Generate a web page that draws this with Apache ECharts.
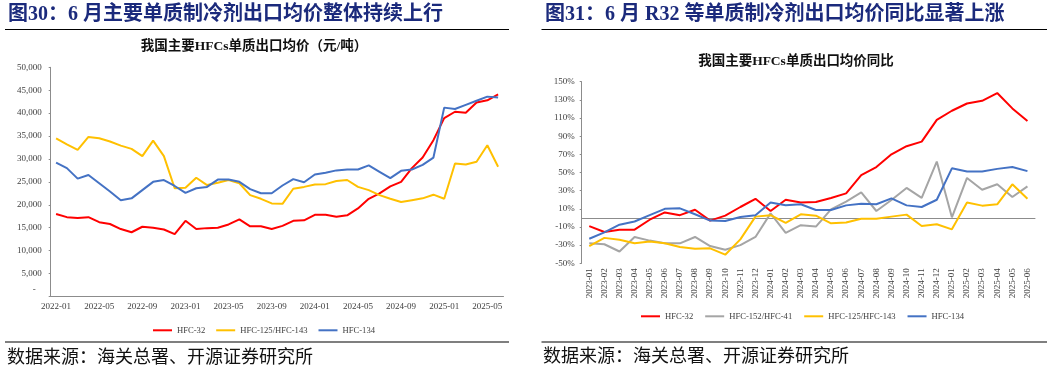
<!DOCTYPE html>
<html><head><meta charset="utf-8">
<script src="https://cdn.jsdelivr.net/npm/echarts@6/dist/echarts.min.js"></script>
<style>html,body{margin:0;padding:0;background:#fff}#c{width:1057px;height:368px}</style>
</head><body><div id="c"></div>
<script>
// ---------- Left chart: export average price (yuan/ton) ----------
const priceMonths = ['2022-01','2022-02','2022-03','2022-04','2022-05','2022-06','2022-07','2022-08','2022-09','2022-10','2022-11','2022-12',
  '2023-01','2023-02','2023-03','2023-04','2023-05','2023-06','2023-07','2023-08','2023-09','2023-10','2023-11','2023-12',
  '2024-01','2024-02','2024-03','2024-04','2024-05','2024-06','2024-07','2024-08','2024-09','2024-10','2024-11','2024-12',
  '2025-01','2025-02','2025-03','2025-04','2025-05','2025-06'];
const priceHFC32 = [18000,17300,17100,17300,16200,15800,14700,14000,15200,15000,14600,13600,16500,14700,14900,15000,15700,16800,15300,15300,14700,15400,16500,16600,17800,17800,17400,17700,19200,21300,22500,24000,25000,28000,30300,34100,38900,40300,40100,42300,42800,44100];
const priceHFC125 = [34500,33200,32000,34800,34500,33800,32900,32200,30600,34000,30600,23600,23700,25900,24300,24800,25400,24700,22100,21300,20300,20200,23500,23900,24400,24500,25200,25400,23900,23200,22100,21300,20600,21000,21400,22200,21300,29000,28800,29400,33000,28300];
const priceHFC134 = [29200,28000,25700,26500,24700,22900,21000,21400,23200,25000,25400,24100,22600,23600,23900,25500,25500,25000,23400,22500,22500,24200,25600,24900,26600,27000,27500,27700,27700,28600,27200,25800,27400,27700,28700,30300,41200,40900,41800,42700,43600,43400];
const priceTicks = [0,5000,10000,15000,20000,25000,30000,35000,40000,45000,50000];

// ---------- Right chart: YoY change (%) ----------
const yoyMonths = ['2023-01','2023-02','2023-03','2023-04','2023-05','2023-06','2023-07','2023-08','2023-09','2023-10','2023-11','2023-12',
  '2024-01','2024-02','2024-03','2024-04','2024-05','2024-06','2024-07','2024-08','2024-09','2024-10','2024-11','2024-12',
  '2025-01','2025-02','2025-03','2025-04','2025-05','2025-06'];
const yoyHFC32 = [-9,-15.5,-13,-13,-2,6,3,9,-3,2.5,12,21,7.6,20,17,17.5,22,27,47,56,70,79,84,108,118,126,129,137.5,120.6,106.6];
const yoyHFC152 = [-28,-29,-37,-21,-25,-28,-28,-21,-31,-35,-30,-21,5,-16.6,-8,-9.6,9.4,18,28,7.6,19.7,33,22,62,0.6,44,31,37,23,34.7];
const yoyHFC125 = [-31,-22,-24,-28,-26,-28,-32,-34,-33.5,-40.5,-23.6,1.4,3,-5.6,4,2.5,-6,-5,-1,-1,1.4,3.6,-9,-7,-12.6,17,13.5,15,37,21];
const yoyHFC134 = [-23,-16,-7.5,-4,3,10,10.5,4,-3,-3.4,1,3,17,14,15,8.7,8.7,13.8,15.7,15,21.5,13.8,12,20,54.6,51,51,54,56,51.5];
const yoyTicks = [-50,-30,-10,10,30,50,70,90,110,130,150];

const C_RED = '#FF0000', C_YEL = '#FFC000', C_BLUE = '#4472C4', C_GREY = '#A5A5A5';
const SERIF = '"Liberation Serif","Times New Roman","Noto Sans CJK SC",serif';
const LBL = '#404040', AXC = '#8c8c8c', NAVY = '#1b2a7c';

const chart = echarts.init(document.getElementById('c'), null, {renderer:'canvas'});

function txt(text, x, y, font, fill, align) {
  return {type:'text', silent:true, style:{text:text, x:x, y:y, font:font, fill:fill,
    textAlign:align||'left', align:align||'left', textVerticalAlign:'middle', verticalAlign:'middle'}};
}
function hline(x1, x2, y) {
  return {type:'line', silent:true, shape:{x1:x1,y1:y,x2:x2,y2:y}, style:{stroke:'#000', lineWidth:1.2}};
}
function lineSeries(name, data, color, xi, yi) {
  return {name:name, type:'line', data:data, xAxisIndex:xi, yAxisIndex:yi, symbol:'none', showSymbol:false,
    lineStyle:{color:color, width:2}, itemStyle:{color:color}, emphasis:{disabled:true}};
}

const option = {
  animation:false,
  backgroundColor:'#fff',
  graphic:[
    txt('图30：6 月主要单质制冷剂出口均价整体持续上行', 8, 15, 'bold 20px ' + SERIF, NAVY),
    txt('图31：6 月 R32 等单质制冷剂出口均价同比显著上涨', 545, 15, 'bold 20px ' + SERIF, NAVY),
    hline(5, 509, 29.5), hline(541.5, 1047, 29.5),
    txt('我国主要HFCs单质出口均价（元/吨）', 254, 47, 'bold 13.5px ' + SERIF, '#111', 'center'),
    txt('我国主要HFCs单质出口均价同比', 796, 62, 'bold 13.5px ' + SERIF, '#111', 'center'),
    hline(5, 509, 342), hline(541.5, 1047, 342),
    txt('数据来源：海关总署、开源证券研究所', 7, 356, '18px "Noto Sans CJK SC",sans-serif', '#111'),
    txt('数据来源：海关总署、开源证券研究所', 543, 355, '18px "Noto Sans CJK SC",sans-serif', '#111')
  ],
  grid:[
    {left:50.7, top:67.3, width:452.8, height:229.1},
    {left:581.7, top:81.7, width:453.3, height:181.6}
  ],
  legend:[
    {data:['HFC-32','HFC-125/HFC-143','HFC-134'], left:148, top:321, icon:'rect', itemWidth:19, itemHeight:2, itemGap:11,
     textStyle:{fontSize:8.6, fontFamily:SERIF, color:LBL}, selectedMode:false},
    {data:['HFC-32','HFC-152/HFC-41','HFC-125/HFC-143','HFC-134'], left:636, top:307, icon:'rect', itemWidth:19, itemHeight:2, itemGap:12,
     textStyle:{fontSize:8.6, fontFamily:SERIF, color:LBL}, selectedMode:false}
  ],
  xAxis:[
    {gridIndex:0, type:'category', data:priceMonths, boundaryGap:true, position:'bottom',
     axisLine:{lineStyle:{color:AXC, width:1}},
     axisTick:{inside:true, length:3, interval:3, lineStyle:{color:AXC}},
     axisLabel:{interval:3, fontSize:9, margin:6, color:LBL, fontFamily:SERIF},
     splitLine:{show:false}},
    {gridIndex:1, type:'category', data:yoyMonths, boundaryGap:true, position:'bottom',
     axisLine:{onZero:true, lineStyle:{color:AXC, width:1}},
     axisTick:{inside:true, length:4, interval:0, lineStyle:{color:AXC}},
     axisLabel:{show:false}, splitLine:{show:false}},
    {gridIndex:1, type:'category', data:yoyMonths, boundaryGap:true, position:'bottom',
     axisLine:{show:false, onZero:false}, axisTick:{show:false},
     axisLabel:{interval:0, rotate:90, fontSize:9, margin:5, color:LBL, fontFamily:SERIF},
     splitLine:{show:false}}
  ],
  yAxis:[
    {gridIndex:0, type:'value', min:priceTicks[0], max:priceTicks[priceTicks.length-1], interval:priceTicks[1]-priceTicks[0],
     axisLine:{show:true, lineStyle:{color:AXC, width:1}},
     axisTick:{show:true, length:2, lineStyle:{color:AXC}},
     splitLine:{show:false},
     axisLabel:{fontSize:9, margin:9, color:LBL, fontFamily:SERIF,
       formatter:function(v){ return v === 0 ? '{z|-}' : v.toLocaleString('en-US'); },
       rich:{z:{fontSize:9, fontFamily:SERIF, color:LBL, padding:[0,6,14,0]}}}},
    {gridIndex:1, type:'value', min:yoyTicks[0], max:yoyTicks[yoyTicks.length-1], interval:yoyTicks[1]-yoyTicks[0],
     axisLine:{show:true, onZero:false, lineStyle:{color:AXC, width:1}},
     axisTick:{show:true, length:2, lineStyle:{color:AXC}},
     splitLine:{show:false},
     axisLabel:{fontSize:9, margin:7, color:LBL, fontFamily:SERIF, formatter:function(v){ return v + '%'; }}}
  ],
  series:[
    lineSeries('HFC-32', priceHFC32, C_RED, 0, 0),
    lineSeries('HFC-125/HFC-143', priceHFC125, C_YEL, 0, 0),
    lineSeries('HFC-134', priceHFC134, C_BLUE, 0, 0),
    lineSeries('HFC-32', yoyHFC32, C_RED, 1, 1),
    lineSeries('HFC-152/HFC-41', yoyHFC152, C_GREY, 1, 1),
    lineSeries('HFC-125/HFC-143', yoyHFC125, C_YEL, 1, 1),
    lineSeries('HFC-134', yoyHFC134, C_BLUE, 1, 1)
  ]
};
chart.setOption(option);
</script>
</body></html>
